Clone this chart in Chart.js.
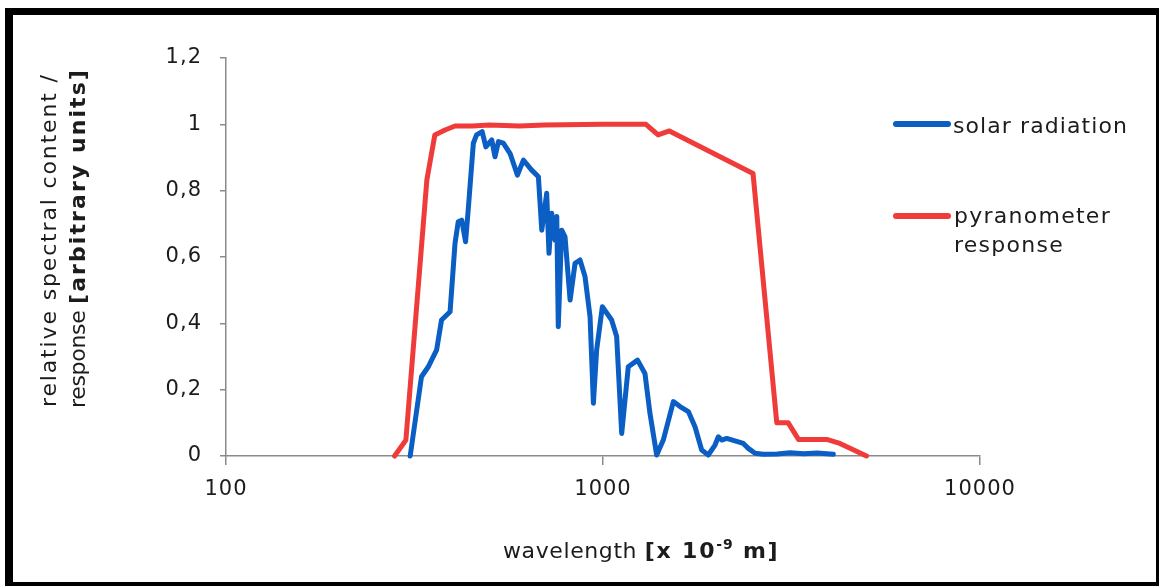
<!DOCTYPE html>
<html>
<head>
<meta charset="utf-8">
<script src="https://cdn.jsdelivr.net/npm/chart.js@4.4.0/dist/chart.umd.min.js"></script>
<style>
  html, body { margin: 0; padding: 0; background: #fff; }
  canvas { display: block; }
</style>
</head>
<body>
<canvas id="spectrum-chart" width="1161" height="586"></canvas>
<script>
const xTicks = [100, 1000, 10000];
const xTickLabels = ['100', '1000', '10000'];
const yTicks = [0, 0.2, 0.4, 0.6, 0.8, 1, 1.2];
const yTickLabels = ['0', '0,2', '0,4', '0,6', '0,8', '1', '1,2'];
const seriesNames = ['solar radiation', 'pyranometer response'];

// wavelength in nm
const solarWavelength = [308, 330, 344, 362, 373, 393, 405, 413, 422, 432, 439, 453, 462, 478, 489, 507, 517, 528, 544, 567,
  593, 615, 647, 674, 688, 709, 719, 731, 746, 754, 761, 777, 793, 818, 843, 869, 896, 924, 943, 962,
  996, 1054, 1087, 1121, 1167, 1235, 1292, 1332, 1388, 1445, 1537, 1601, 1684, 1754, 1827, 1902, 1982, 2023, 2065, 2129,
  2356, 2429, 2531, 2662, 2900, 3133, 3400, 3700, 4082];
const solarValue = [0, 0.239, 0.269, 0.32, 0.41, 0.435, 0.641, 0.706, 0.711, 0.646, 0.742, 0.943, 0.968, 0.978, 0.932, 0.953, 0.902, 0.948, 0.943, 0.912,
  0.847, 0.892, 0.862, 0.842, 0.681, 0.792, 0.611, 0.732, 0.651, 0.722, 0.39, 0.681, 0.661, 0.47, 0.581, 0.591, 0.541, 0.42, 0.159, 0.32,
  0.45, 0.41, 0.36, 0.068, 0.269, 0.289, 0.249, 0.129, 0.003, 0.048, 0.164, 0.149, 0.134, 0.088, 0.018, 0.003, 0.033, 0.058, 0.048, 0.053,
  0.038, 0.023, 0.008, 0.005, 0.006, 0.01, 0.007, 0.009, 0.005];

const pyranoWavelength = [280, 300, 341, 358, 381, 405, 450, 500, 600, 700, 1000, 1300, 1400, 1500, 2500, 2890, 3100, 3300, 3920, 4250, 5000];
const pyranoValue = [0, 0.048, 0.832, 0.968, 0.983, 0.995, 0.995, 0.998, 0.995, 0.998, 1.0, 1.0, 0.968, 0.98, 0.852, 0.1, 0.1, 0.05, 0.05, 0.038, 0];

const BLUE = '#0a5ec4';
const RED = '#f03b3b';
const TEXT = '#1c1c1c';
const AXIS = '#8a8a8a';
const FONT = "'DejaVu Sans', Verdana, sans-serif";

function toPoints(xs, ys) {
  return xs.map((x, i) => ({ x: x, y: ys[i] }));
}

// draws text runs one after another; a run with a width gets letter spacing to fill it
function drawRuns(ctx, runs, x, y) {
  let cx = x;
  runs.forEach(r => {
    ctx.font = r.font;
    ctx.letterSpacing = '0px';
    const w = ctx.measureText(r.text).width;
    const gap = r.width ? (r.width - w) / r.text.length : (r.gap || 0);
    ctx.letterSpacing = gap.toFixed(2) + 'px';
    ctx.fillText(r.text, cx, y + (r.dy || 0));
    cx += r.width ? r.width : w + gap * r.text.length;
  });
  ctx.letterSpacing = '0px';
}

const decor = {
  id: 'decor',
  beforeDraw(chart) {
    const ctx = chart.ctx;
    ctx.save();
    ctx.fillStyle = '#fff';
    ctx.fillRect(0, 0, chart.width, chart.height);
    ctx.restore();
    ctx.letterSpacing = '1px';
  },
  afterDraw(chart) {
    const ctx = chart.ctx;
    const colors = chart.data.datasets.map(d => d.borderColor);
    ctx.save();
    ctx.fillStyle = TEXT;
    ctx.textAlign = 'left';
    ctx.textBaseline = 'alphabetic';

    // y title, two rotated lines
    ctx.save();
    ctx.translate(56, 407);
    ctx.rotate(-Math.PI / 2);
    drawRuns(ctx, [{ text: 'relative spectral content /', font: '22px ' + FONT, width: 334 }], 0, 0);
    ctx.restore();
    ctx.save();
    ctx.translate(85, 408);
    ctx.rotate(-Math.PI / 2);
    drawRuns(ctx, [
      { text: 'response ', font: '22px ' + FONT, width: 104 },
      { text: '[arbitrary units]', font: 'bold 22px ' + FONT, width: 236 }
    ], 0, 0);
    ctx.restore();

    // x title
    drawRuns(ctx, [
      { text: 'wavelength ', font: '22px ' + FONT, gap: 0.6 },
      { text: '[x 10', font: 'bold 22px ' + FONT, gap: 1.8 },
      { text: '-9', font: 'bold 14px ' + FONT, gap: 0.8, dy: -9 },
      { text: ' m]', font: 'bold 22px ' + FONT, gap: 1.8 }
    ], 503, 558);

    // legend
    ctx.lineWidth = 6;
    ctx.lineCap = 'round';
    ctx.strokeStyle = colors[0];
    ctx.beginPath(); ctx.moveTo(896, 124); ctx.lineTo(948, 124); ctx.stroke();
    ctx.strokeStyle = colors[1];
    ctx.beginPath(); ctx.moveTo(896, 216); ctx.lineTo(948, 216); ctx.stroke();
    const lf = '22px ' + FONT;
    drawRuns(ctx, [{ text: seriesNames[0], font: lf, width: 175 }], 953, 133);
    const parts = seriesNames[1].split(' ');
    drawRuns(ctx, [{ text: parts[0], font: lf, width: 157 }], 954, 223);
    drawRuns(ctx, [{ text: parts[1], font: lf, width: 110 }], 954, 252);

    // black frame
    ctx.fillStyle = '#000';
    ctx.fillRect(5, 8, 1154, 7);
    ctx.fillRect(5, 8, 8, 578);
    ctx.fillRect(1156, 8, 3, 578);
    ctx.fillRect(5, 582, 1154, 4);
    ctx.restore();
  }
};

const ctx = document.getElementById('spectrum-chart').getContext('2d');
const chart = new Chart(ctx, {
  type: 'line',
  data: {
    datasets: [{
      label: seriesNames[0],
      data: toPoints(solarWavelength, solarValue),
      borderColor: BLUE,
      borderWidth: 5,
      pointRadius: 0,
      tension: 0,
      borderJoinStyle: 'round',
      borderCapStyle: 'round',
      clip: false
    }, {
      label: seriesNames[1],
      data: toPoints(pyranoWavelength, pyranoValue),
      borderColor: RED,
      borderWidth: 5,
      pointRadius: 0,
      tension: 0,
      borderJoinStyle: 'round',
      borderCapStyle: 'round',
      clip: false
    }]
  },
  options: {
    responsive: false,
    animation: false,
    devicePixelRatio: 1,
    layout: { padding: { left: 0, top: 58, right: 181, bottom: 0 } },
    plugins: { legend: { display: false }, tooltip: { enabled: false } },
    scales: {
      x: {
        type: 'logarithmic',
        min: 100,
        max: 10000,
        afterBuildTicks: s => { s.ticks = xTicks.map(v => ({ value: v })); },
        afterFit: s => { s.height = 130; },
        ticks: {
          callback: (v, i) => xTickLabels[i],
          color: TEXT,
          font: { family: FONT, size: 21 },
          padding: 12,
          maxRotation: 0,
          autoSkip: false
        },
        grid: { drawOnChartArea: false, drawTicks: true, tickLength: 9, color: AXIS, lineWidth: 1.5 },
        border: { display: true, color: AXIS, width: 1.5 }
      },
      y: {
        type: 'linear',
        min: 0,
        max: 1.2,
        afterBuildTicks: s => { s.ticks = yTicks.map(v => ({ value: v })); },
        afterFit: s => { s.width = 226; },
        ticks: {
          callback: (v, i) => yTickLabels[i],
          color: TEXT,
          font: { family: FONT, size: 21 },
          padding: 18
        },
        grid: { drawOnChartArea: false, drawTicks: true, tickLength: 6, color: AXIS, lineWidth: 1.5 },
        border: { display: true, color: AXIS, width: 1.5 }
      }
    }
  },
  plugins: [decor]
});
</script>
</body>
</html>
